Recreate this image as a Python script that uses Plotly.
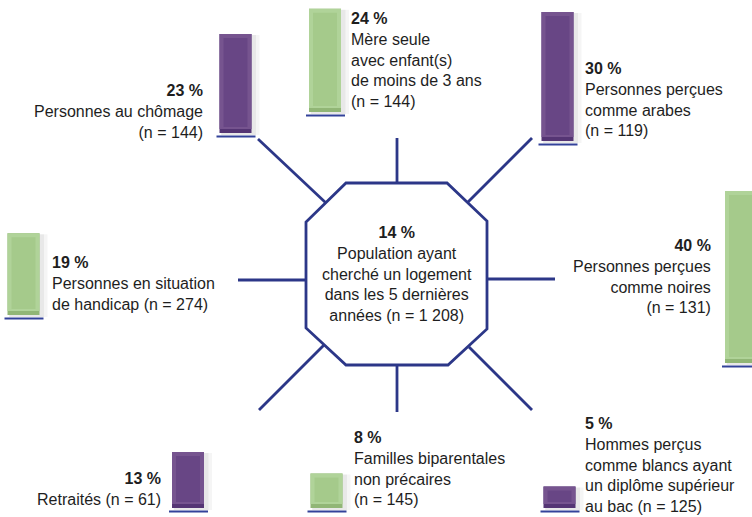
import plotly.graph_objects as go

# ---------------- data ----------------
percent = [23, 24, 30, 40, 19, 13, 8, 5]
groups = [
    ["Personnes au chômage", "(n = 144)"],
    ["Mère seule", "avec enfant(s)", "de moins de 3 ans", "(n = 144)"],
    ["Personnes perçues", "comme arabes", "(n = 119)"],
    ["Personnes perçues", "comme noires", "(n = 131)"],
    ["Personnes en situation", "de handicap (n = 274)"],
    ["Retraités (n = 61)"],
    ["Familles biparentales", "non précaires", "(n = 145)"],
    ["Hommes perçus", "comme blancs ayant", "un diplôme supérieur", "au bac (n = 125)"],
]
center_percent = 14
center_label = ["Population ayant", "cherché un logement", "dans les 5 dernières", "années (n = 1 208)"]

# ---------------- layout / style ----------------
W, H = 752, 517
PX_PER_PCT = 4.3
BAR_W = 32
bar_cx = [235.5, 325, 557.5, 741, 23.5, 188, 326.5, 559.5]
bar_bottom = [133, 112, 141, 363, 315, 508, 508, 508]
palette = ["p", "g", "p", "g", "g", "p", "g", "p"]
EDGE = {"p": "#76548f", "g": "#b0d399"}
CORE = {"p": "#684685", "g": "#a5ca8b"}
LOW = {"p": "#553574", "g": "#91b676"}
label_side = ["right", "left", "left", "right", "left", "right", "left", "left"]
label_x = [205, 349, 583, 713, 50, 163, 352, 583]
label_top = [80, 8, 58, 235, 252, 468, 427, 413]

NAVY = "#2c3788"
TXT = "#1e1e1e"
FONT = "Liberation Sans, Arial, sans-serif"
FS = 16

fig = go.Figure()

heights = [p * PX_PER_PCT for p in percent]

# soft shadow (two faint layers)
for dx, extra, alpha in [(5, 6, 0.04), (3, 3, 0.05)]:
    fig.add_trace(go.Bar(
        x=[c + dx for c in bar_cx], width=[BAR_W + extra] * 8,
        base=[b + 2 for b in bar_bottom], y=[-(h + 1) for h in heights],
        marker=dict(color=f"rgba(0,0,0,{alpha})", line=dict(width=0)),
        hoverinfo="skip"))
# bottom dark edge
fig.add_trace(go.Bar(
    x=bar_cx, width=[BAR_W] * 8, base=bar_bottom, y=[-h for h in heights],
    marker=dict(color=[LOW[c] for c in palette], line=dict(width=0)),
    hoverinfo="skip"))
# light outer edge
fig.add_trace(go.Bar(
    x=bar_cx, width=[BAR_W] * 8, base=[b - 4 for b in bar_bottom],
    y=[-(h - 4) for h in heights],
    marker=dict(color=[EDGE[c] for c in palette], line=dict(width=0)),
    hoverinfo="skip"))
# inner core
fig.add_trace(go.Bar(
    x=bar_cx, width=[BAR_W - 8] * 8, base=[b - 6 for b in bar_bottom],
    y=[-max(h - 10, 2) for h in heights],
    marker=dict(color=[CORE[c] for c in palette], line=dict(width=0)),
    hoverinfo="skip"))

shapes = []
# baselines under bars
for cx, b in zip(bar_cx, bar_bottom):
    shapes.append(dict(type="line", x0=cx - BAR_W / 2 - 3, x1=cx + BAR_W / 2 + 4,
                       y0=b + 3.5, y1=b + 3.5, line=dict(color="#33429a", width=2)))

# radiating connectors
spokes = [((397, 183), (397, 138)), ((326, 203), (258, 139)), ((468, 202), (532, 138)),
          ((306, 280), (238, 280)), ((487, 279), (555, 279)), ((324, 345), (259, 410)),
          ((397, 365), (397, 412)), ((469, 347), (532, 410))]
for (a, b) in spokes:
    shapes.append(dict(type="line", x0=a[0], y0=a[1], x1=b[0], y1=b[1],
                       line=dict(color=NAVY, width=2.8)))
# central octagon
octa = [(346, 183), (447, 183), (487, 221), (487, 329), (448, 365), (346, 365), (306, 328), (306, 222)]
path = "M " + " L ".join(f"{x},{y}" for x, y in octa) + " Z"
shapes.append(dict(type="path", path=path, fillcolor="white", line=dict(color=NAVY, width=2.8)))

annotations = []
for p, lines, side, lx, ly in zip(percent, groups, label_side, label_x, label_top):
    txt = f"<b>{p} %</b><br>" + "<br>".join(lines)
    annotations.append(dict(x=lx, y=ly, xref="x", yref="y", text=txt, showarrow=False,
                            xanchor=side, yanchor="top", align=side,
                            font=dict(family=FONT, size=FS, color=TXT)))
annotations.append(dict(x=397, y=222, xref="x", yref="y",
                        text=f"<b>{center_percent} %</b><br>" + "<br>".join(center_label),
                        showarrow=False, xanchor="center", yanchor="top", align="center",
                        font=dict(family=FONT, size=FS, color=TXT)))

fig.update_layout(
    width=W, height=H, margin=dict(l=0, r=0, t=0, b=0),
    paper_bgcolor="white", plot_bgcolor="white",
    barmode="overlay", showlegend=False,
    xaxis=dict(range=[0, W], visible=False, fixedrange=True),
    yaxis=dict(range=[H, 0], visible=False, fixedrange=True),
    shapes=shapes, annotations=annotations,
)

fig.write_html(
    "out.html",
    config={"displayModeBar": False},
    post_script="document.body.style.margin='0';document.body.style.overflow='hidden';",
)
